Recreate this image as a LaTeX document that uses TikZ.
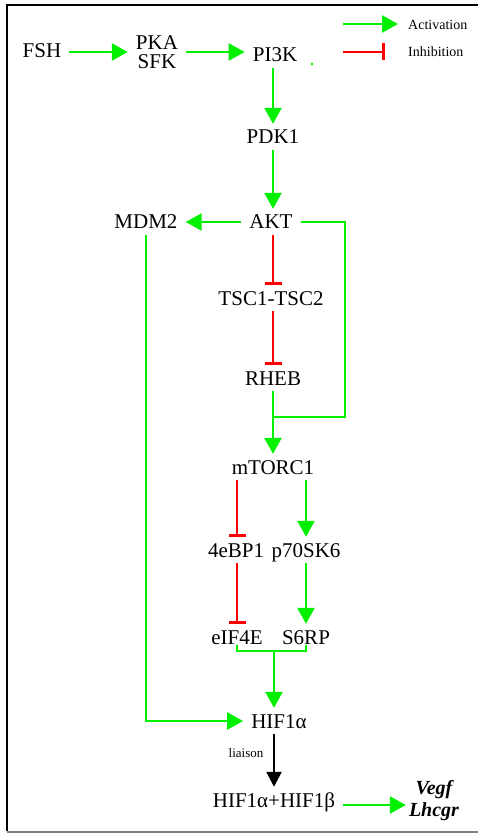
\documentclass[tikz,border=0pt]{standalone}
\usepackage{fontspec}
\setmainfont{Liberation Serif}
\usepackage{tikz}
\usetikzlibrary{arrows.meta}
\usepackage{xcolor}
\definecolor{actgreen}{RGB}{0,240,0}

\begin{document}
\begin{tikzpicture}[x=1pt, y=-1pt,
  lbl/.style={font=\fontsize{21}{19}\selectfont, inner xsep=8pt, inner ysep=6pt, text height=14pt, text depth=0pt},
  lbltwo/.style={font=\fontsize{21}{19}\selectfont, align=center, inner sep=8pt},
  act/.style={actgreen, line width=2.5pt, -{Triangle[length=16pt,width=17pt]}},
  inh/.style={red, line width=2.5pt, -{Bar[width=17pt,line width=3pt]}},
  lnk/.style={actgreen, line width=2.5pt},
  bind/.style={black, line width=2.5pt, -{Triangle[length=15pt,width=15pt]}},
  legtxt/.style={font=\fontsize{14}{16}\selectfont, inner sep=3pt}]
  \useasboundingbox (0,0) rectangle (478,834);

  % ---- Frame ----
  \draw[line width=2.5pt] (7,831) -- (7,5) -- (478,5);
  \draw[gray, line width=2pt] (7,832) -- (478,832);

  % ---- Legend ----
  \node[legtxt, right] (actlab) at (405,25) {Activation};
  \node[legtxt, right] (inhlab) at (405,52) {Inhibition};
  \draw[act] (actlab.west) ++(-62,-1) -- ++(55,0);
  \draw[inh] (inhlab.west) ++(-62,0) -- ++(42,0);
  \fill[actgreen] (311,63) rectangle (313,65);

  % ---- Pathway nodes ----
  \node[lbl] (fsh) at (42,51) {FSH};
  \node[lbltwo] (pka) at (157,52) {PKA\\SFK};
  \node[lbl] (pi3k) at (275,55) {PI3K};
  \node[lbl] (pdk1) at (273,137) {PDK1};
  \node[lbl] (akt) at (271,222) {AKT};
  \node[lbl] (mdm2) at (146,222) {MDM2};
  \node[lbl] (tsc) at (271,298) {TSC1-TSC2};
  \node[lbl] (rheb) at (273,378) {RHEB};
  \node[lbl] (mtorc) at (273,467) {mTORC1};
  \node[lbl] (ebp) at (236,550) {4eBP1};
  \node[lbl] (p70) at (306,550) {p70SK6};
  \node[lbl] (eif) at (237,637) {eIF4E};
  \node[lbl] (s6rp) at (306,637) {S6RP};
  \node[lbl] (hif) at (279,721) {HIF1α};
  \node[lbl] (dimer) at (274,800) {HIF1α+HIF1β};
  \node[lbltwo, font=\fontsize{20}{22}\selectfont\bfseries\itshape, inner sep=3pt] (genes) at (434,801) {Vegf\\Lhcgr};
  \node[font=\fontsize{13}{15}\selectfont] (liaison) at (246,753) {liaison};

  % ---- Upstream ----
  \draw[act] (fsh.east |- pka) -- (pka.west);
  \draw[act] (pka.east) -- (pka.east -| pi3k.west);
  \draw[act] (pdk1 |- pi3k.south) -- (pdk1.north);
  \draw[act] (pdk1.south) -- (pdk1 |- akt.north);
  \draw[act] (akt.west) -- (mdm2.east);

  % ---- AKT -> mTORC1 branch ----
  \draw[inh] (akt.south -| rheb) -- (rheb |- tsc.north);
  \draw[inh] (tsc.south -| rheb) -- (rheb.north);
  \coordinate (join) at (273,417);
  \draw[lnk] (akt.east) -- ++(44,0) |- (join);
  \draw[act] (rheb.south) -- (mtorc.north);

  % ---- mTORC1 targets ----
  \draw[inh] (mtorc.south -| eif) -- (eif |- ebp.north);
  \draw[act] (mtorc.south -| p70) -- (p70.north);
  \draw[inh] (ebp.south -| eif) -- (eif.north);
  \draw[act] (p70.south) -- (s6rp.north);
  \draw[lnk] ([yshift=5pt]eif.south) -- ++(0,6) coordinate (bl) -- (bl -| s6rp) -- ([yshift=5pt]s6rp.south);
  \draw[act] (bl -| dimer) -- (dimer |- hif.north);
  \draw[act] (mdm2.south) |- (hif.west);

  % ---- HIF dimer ----
  \draw[bind] (hif.south -| dimer) -- (dimer.north);
  \draw[act] ([yshift=-5pt]dimer.east) -- ([yshift=-5pt]dimer.east -| genes.west);
\end{tikzpicture}
\end{document}
